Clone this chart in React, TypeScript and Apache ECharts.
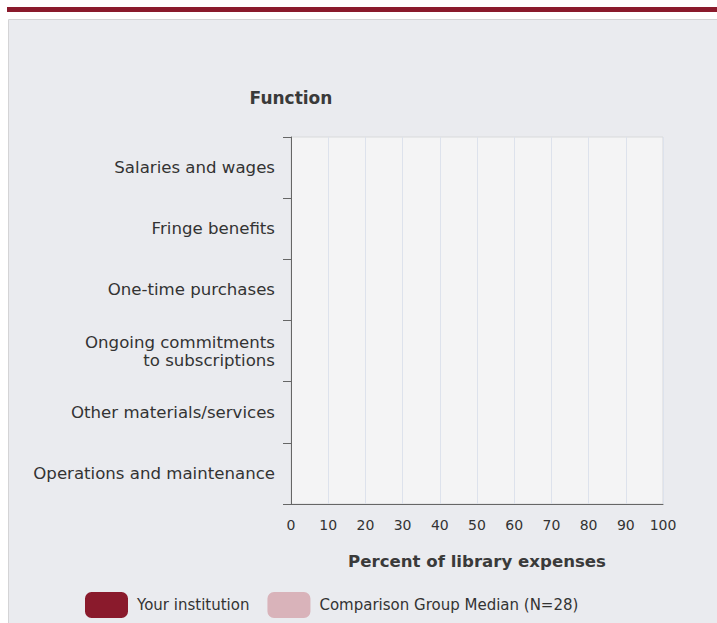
import React, { useEffect, useRef } from "react";
import * as echarts from "echarts";

const categories = [
  "Salaries and wages",
  "Fringe benefits",
  "One-time purchases",
  "Ongoing commitments\nto subscriptions",
  "Other materials/services",
  "Operations and maintenance",
];
const yourInstitution: (number | null)[] = [null, null, null, null, null, null];
const comparisonMedian: (number | null)[] = [null, null, null, null, null, null];
const seriesNames = ["Your institution", "Comparison Group Median (N=28)"];
const xMin = 0;
const xMax = 100;
const xInterval = 10;

const FONT = "DejaVu Sans";

export default function App() {
  const ref = useRef<HTMLDivElement>(null);
  useEffect(() => {
    if (!ref.current) return;
    const chart = echarts.init(ref.current, undefined, { renderer: "svg" });
    chart.setOption({
      animation: false,
      textStyle: { fontFamily: FONT },
      graphic: [
        {
          type: "rect",
          z: -10,
          shape: { x: 7, y: 7, width: 720, height: 5 },
          style: { fill: "#8A1A2C" },
          silent: true,
        },
        {
          type: "rect",
          z: -10,
          shape: { x: 8.5, y: 19.5, width: 720, height: 620 },
          style: { fill: "#EAEBEF", stroke: "#D4D4D6", lineWidth: 1 },
          silent: true,
        },
      ],
      legend: {
        left: 80,
        top: 587,
        itemWidth: 43,
        itemHeight: 26,
        itemGap: 18,
        icon: "roundRect",
        textStyle: { fontFamily: FONT, fontSize: 15, color: "#333", padding: [0, 0, 0, 4] },
        data: seriesNames,
      },
      grid: {
        left: 291,
        top: 137,
        right: 54,
        bottom: 119,
        show: true,
        backgroundColor: "#F4F4F5",
        borderColor: "#D8D9DB",
        borderWidth: 1,
      },
      xAxis: {
        type: "value",
        min: xMin,
        max: xMax,
        interval: xInterval,
        name: "Percent of library expenses",
        nameLocation: "middle",
        nameGap: 49,
        nameTextStyle: { fontFamily: FONT, fontSize: 16.6, fontWeight: "bold", color: "#3a3a3a" },
        axisLine: { show: true, lineStyle: { color: "#666", width: 1 } },
        axisTick: { show: false },
        axisLabel: { fontFamily: FONT, fontSize: 14, color: "#333", margin: 14 },
        splitLine: { show: true, lineStyle: { color: "#DDE2EC", width: 1 } },
      },
      yAxis: {
        type: "category",
        inverse: true,
        data: categories,
        name: "Function",
        nameLocation: "start",
        nameGap: 31,
        nameTextStyle: { fontFamily: FONT, fontSize: 17, fontWeight: "bold", color: "#3a3a3a", align: "center" },
        axisLine: { show: true, lineStyle: { color: "#666", width: 1 } },
        axisTick: { show: true, length: 8, lineStyle: { color: "#666" } },
        axisLabel: { fontFamily: FONT, fontSize: 16.6, color: "#333", margin: 16, lineHeight: 18, align: "right" },
        splitLine: { show: false },
      },
      series: [
        {
          name: seriesNames[0],
          type: "bar",
          data: yourInstitution,
          itemStyle: { color: "#8A1A2C", borderRadius: 4 },
        },
        {
          name: seriesNames[1],
          type: "bar",
          data: comparisonMedian,
          itemStyle: { color: "#D9B3BA", borderRadius: 4 },
        },
      ],
    });
    return () => chart.dispose();
  }, []);
  return (
    <div
      ref={ref}
      style={{ position: "absolute", left: 0, top: 0, width: 717, height: 623 }}
    />
  );
}
